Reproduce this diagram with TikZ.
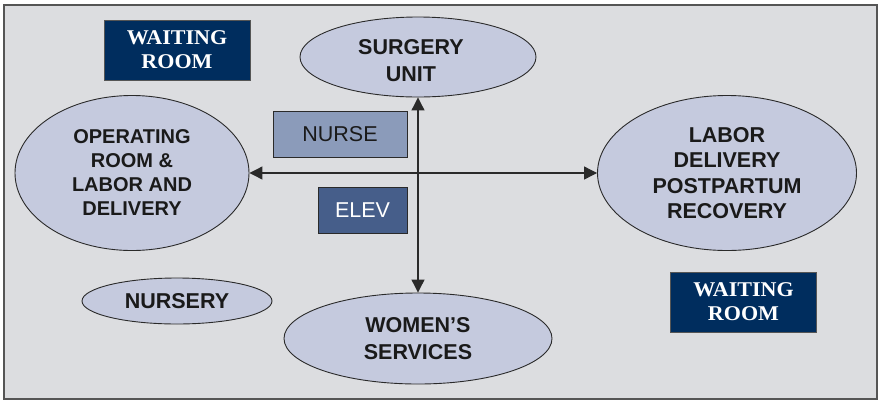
\documentclass[tikz,border=0pt]{standalone}
\usepackage{fontspec}
\usetikzlibrary{shapes.geometric,arrows.meta}
\newfontfamily\lblfont{Liberation Sans}
\newfontfamily\plainsans{Liberation Sans}
\newfontfamily\wrfont{Liberation Serif}[FakeStretch=1.05]
\definecolor{bgc}{HTML}{DCDDE0}
\definecolor{ellc}{HTML}{C5CADE}
\definecolor{navy}{HTML}{002D5E}
\definecolor{nursec}{HTML}{8B9BBA}
\definecolor{elevc}{HTML}{465E8A}
\definecolor{linec}{HTML}{2A2A2A}
\definecolor{framec}{HTML}{555555}
\definecolor{textc}{HTML}{1A1A1A}
\tikzset{
  room/.style={ellipse, draw=linec, line width=0.9pt, fill=ellc, inner sep=0pt,
    align=center, font=\lblfont\bfseries\fontsize{21.5}{26}\selectfont, text=textc},
  roomtext/.style={inner sep=0pt, align=center, text=textc,
    font=\lblfont\bfseries\fontsize{21.5}{27}\selectfont},
  waitbox/.style={rectangle, draw=framec, line width=1pt, fill=navy, inner sep=0pt,
    align=center, text=white, font=\wrfont\bfseries\fontsize{21}{24}\selectfont,
    minimum width=146pt, minimum height=60pt},
  smallbox/.style={rectangle, draw=linec, line width=1pt, inner sep=0pt,
    font=\plainsans\fontsize{21.5}{24}\selectfont},
  link/.style={draw=linec, line width=1.1pt,
    {Triangle[length=13pt,width=13pt]}-{Triangle[length=13pt,width=13pt]}}
}
\begin{document}
\begin{tikzpicture}[x=1pt,y=-1pt]
\useasboundingbox (0,0) rectangle (881,400);
\fill[white] (0,0) rectangle (881,400);
\draw[framec, line width=2pt, fill=bgc] (4,5) rectangle (877,399);

\node[waitbox] (wr1) at (177,50) {WAITING\\ROOM};
\node[waitbox] (wr2) at (743.5,302) {WAITING\\ROOM};

\node[room, minimum width=236pt, minimum height=80pt] (surg) at (418,57) {};
\node[roomtext] (surgt) at (411,61) {SURGERY\\UNIT};
\node[room, minimum width=234pt, minimum height=155pt,
  font=\lblfont\bfseries\fontsize{20}{24}\selectfont] (or) at (132,173) {OPERATING\\ROOM \&\\LABOR AND\\DELIVERY};
\node[room, minimum width=259pt, minimum height=155pt,
  font=\lblfont\bfseries\fontsize{21.5}{25.5}\selectfont] (ldpr) at (727,173) {LABOR\\DELIVERY\\POSTPARTUM\\RECOVERY};
\node[room, minimum width=190pt, minimum height=46pt] (nurs) at (177,301) {NURSERY};
\node[room, minimum width=268pt, minimum height=91pt,
  font=\lblfont\bfseries\fontsize{21.5}{27}\selectfont] (wom) at (418,338.5) {WOMEN’S\\SERVICES};

\node[smallbox, fill=nursec, text=textc, minimum width=134pt, minimum height=46pt] (nurse) at (340,134) {NURSE};
\node[smallbox, fill=elevc, text=white, minimum width=89pt, minimum height=46pt] (elev) at (362.5,210) {ELEV};

\draw[link] (or.east) -- (ldpr.west);
\draw[link] (surg.south) -- (wom.north);
\end{tikzpicture}
\end{document}
